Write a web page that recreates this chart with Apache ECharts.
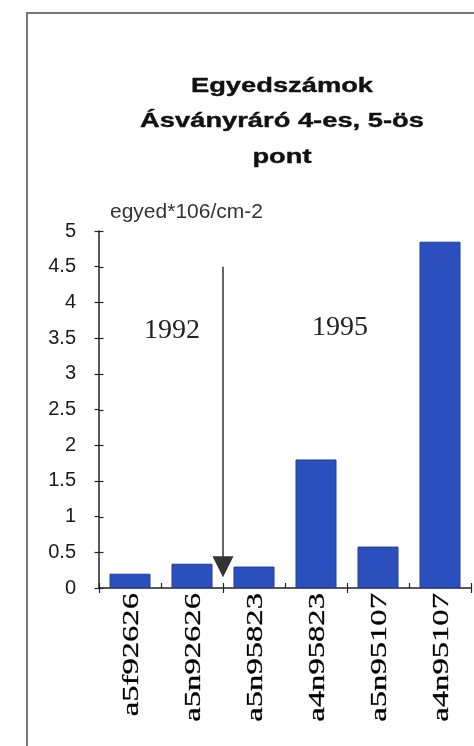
<!DOCTYPE html>
<html>
<head>
<meta charset="utf-8">
<script src="https://cdn.jsdelivr.net/npm/echarts@6/dist/echarts.min.js"></script>
<style>
  html, body { margin: 0; padding: 0; background: #fff; }
  #chart { width: 474px; height: 746px; }
</style>
</head>
<body>
<div id="chart"></div>
<script>
// Sample codes along the x axis
const categories = ['a5f92626', 'a5n92626', 'a5n95823', 'a4n95823', 'a5n95107', 'a4n95107'];
// Abundance (egyed*106/cm-2) per sample
const values = [0.2, 0.34, 0.3, 1.8, 0.58, 4.85];
// Value axis range and step
const yMin = 0, yMax = 5, yStep = 0.5;
// Chart title lines
const titleLines = ['Egyedszámok', 'Ásványráró 4-es, 5-ös', 'pont'];
const axisName = 'egyed*106/cm-2';
// Year annotations and the divider arrow between the two sampling years
const yearLabels = ['1992', '1995'];
const dividerTop = 4.5, dividerTip = 0.15;

const chart = echarts.init(document.getElementById('chart'), null, { renderer: 'canvas' });

const axisColor = '#222';
const sans = 'Liberation Sans, Arial, sans-serif';
const serif = 'Liberation Serif, Times New Roman, serif';
const tickLen = 5;

chart.setOption({
  animation: false,
  backgroundColor: '#fff',
  grid: { left: 99, right: 3, top: 231, bottom: 158, containLabel: false },
  xAxis: {
    type: 'category', data: categories, position: 'bottom',
    axisLine: { lineStyle: { color: axisColor, width: 1.5 } },
    axisTick: { show: true, inside: false, length: tickLen, lineStyle: { color: axisColor, width: 1.2 } },
    axisLabel: { show: false },
    splitLine: { show: false }
  },
  yAxis: {
    type: 'value', min: yMin, max: yMax, interval: yStep, position: 'left',
    name: axisName, nameLocation: 'end', nameGap: 8,
    nameTextStyle: { align: 'left', fontSize: 21, fontFamily: sans, color: '#333', padding: [0, 0, 0, 11] },
    axisLine: { show: true, lineStyle: { color: axisColor, width: 1.5 } },
    axisTick: { show: true, inside: false, length: 4.5, lineStyle: { color: axisColor, width: 1.2 } },
    axisLabel: { margin: 23, fontSize: 20, fontFamily: sans, color: '#1a1a1a' },
    splitLine: { show: false }
  },
  series: [{
    type: 'bar',
    data: values,
    barWidth: 41,
    itemStyle: { color: '#2c4fbe', borderColor: '#1f3c9e', borderWidth: 1 }
  }]
});

// Pixel helpers from the chart's own scales
const px = (cat) => chart.convertToPixel({ xAxisIndex: 0 }, cat);
const py = (v) => chart.convertToPixel({ yAxisIndex: 0 }, v);

const graphics = [];

// Outer frame
graphics.push({
  type: 'polyline', silent: true,
  shape: { points: [[27, 760], [27, 13], [480, 13]] },
  style: { stroke: '#777', lineWidth: 2, fill: null }
});

// Inward halves of the tick marks, so every tick crosses its axis
const band = px(categories[1]) - px(categories[0]);
const axisX = px(categories[0]) - band / 2;
const base = py(0);
for (let v = yMin; v <= yMax + 1e-9; v += yStep) {
  const y = Math.round(py(v)) + 0.5;
  graphics.push({
    type: 'line', silent: true,
    shape: { x1: axisX, y1: y, x2: axisX + 4.5, y2: y },
    style: { stroke: axisColor, lineWidth: 1.2 }
  });
}
for (let i = 0; i <= categories.length; i++) {
  const x = Math.round(axisX + i * band) + 0.5;
  graphics.push({
    type: 'line', silent: true,
    shape: { x1: x, y1: base, x2: x, y2: base - tickLen },
    style: { stroke: axisColor, lineWidth: 1.2 }
  });
}

// Title, slightly widened bold sans
titleLines.forEach((line, i) => {
  graphics.push({
    type: 'text', silent: true,
    x: 282, y: 86 + i * 35.5, scaleX: 1.3,
    style: { text: line, font: 'bold 21px ' + sans, fill: '#111', align: 'center', verticalAlign: 'middle',
             stroke: '#111', lineWidth: 0.4 }
  });
});

// Category labels, rotated and stretched along their length
categories.forEach((c) => {
  graphics.push({
    type: 'text', silent: true,
    x: px(c) + 2, y: base + 5,
    rotation: Math.PI / 2, scaleX: 1.36,
    style: { text: c, font: '24px ' + serif, fill: '#000', align: 'right', verticalAlign: 'middle',
             stroke: '#000', lineWidth: 0.3 }
  });
});

// Year annotations
graphics.push({
  type: 'text', silent: true, x: 172, y: py(3.6),
  style: { text: yearLabels[0], font: '28px ' + serif, fill: '#222', align: 'center', verticalAlign: 'middle' }
});
graphics.push({
  type: 'text', silent: true, x: 340, y: py(3.65),
  style: { text: yearLabels[1], font: '28px ' + serif, fill: '#222', align: 'center', verticalAlign: 'middle' }
});

// Divider arrow on the boundary between the 1992 and 1995 samples
const ax = (px(categories[1]) + px(categories[2])) / 2;
const yTop = py(dividerTop), yTip = py(dividerTip);
graphics.push({
  type: 'line', silent: true,
  shape: { x1: ax, y1: yTop, x2: ax, y2: yTip - 18 },
  style: { stroke: '#333', lineWidth: 1.5 }
});
graphics.push({
  type: 'polygon', silent: true,
  shape: { points: [[ax - 10.5, yTip - 21], [ax + 10.5, yTip - 21], [ax, yTip]] },
  style: { fill: '#333' }
});

chart.setOption({ graphic: graphics });
</script>
</body>
</html>
